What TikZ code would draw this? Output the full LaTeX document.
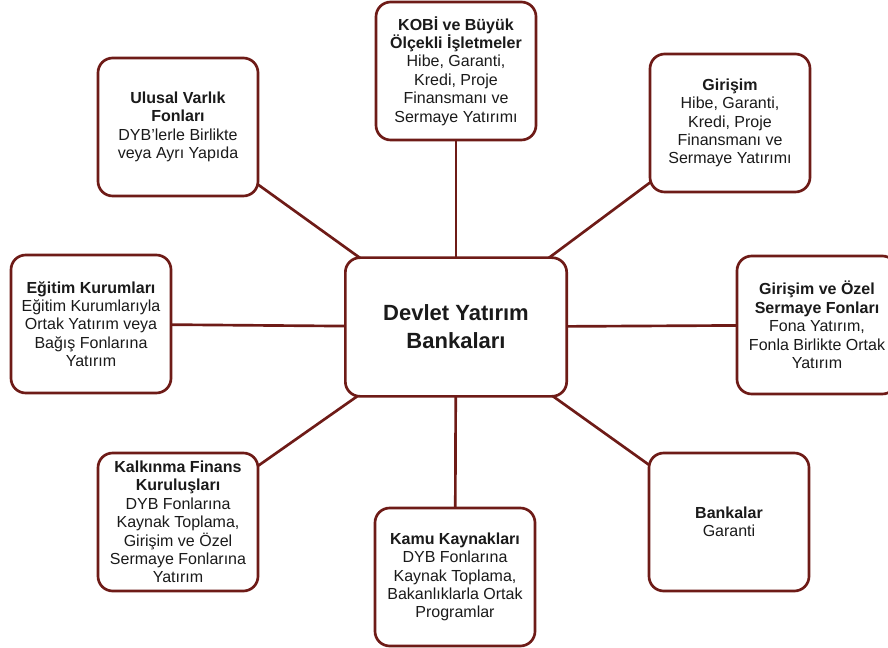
\documentclass[tikz,border=0pt]{standalone}
\usepackage{fontspec}
\setmainfont{Liberation Sans}
\usetikzlibrary{backgrounds}
\definecolor{maroon}{HTML}{6E1B17}
\definecolor{ink}{HTML}{1A1A1A}

\begin{document}
\begin{tikzpicture}[x=0.75pt,y=-0.75pt,
    box/.style={draw=maroon,line width=2pt,rounded corners=11pt,fill=white,
      align=center,text=ink,minimum width=120pt,minimum height=103.5pt,
      inner sep=2pt,font=\fontsize{12}{13.8}\selectfont},
    hub/.style={box,minimum width=166pt,minimum height=104pt,
      font=\fontsize{16.5}{21}\selectfont\bfseries},
    link/.style={draw=maroon,line width=2pt}]
  \useasboundingbox (0,0) rectangle (888,648);
  \node[hub] (dyb) at (456,327) {Devlet Yatırım\\Bankaları};
  \node[box] (kobi) at (456,71) {\textbf{KOBİ ve Büyük}\\\textbf{Ölçekli İşletmeler}\\Hibe, Garanti,\\Kredi, Proje\\Finansmanı ve\\Sermaye Yatırımı};
  \node[box] (ulusal) at (178,127) {\textbf{Ulusal Varlık}\\\textbf{Fonları}\\DYB’lerle Birlikte\\veya Ayrı Yapıda};
  \node[box] (girisim) at (730,123) {\textbf{Girişim}\\Hibe, Garanti,\\Kredi, Proje\\Finansmanı ve\\Sermaye Yatırımı};
  \node[box] (egitim) at (91,324) {\textbf{Eğitim Kurumları}\\Eğitim Kurumlarıyla\\Ortak Yatırım veya\\Bağış Fonlarına\\Yatırım};
  \node[box] (ozel) at (817,325) {\textbf{Girişim ve Özel}\\\textbf{Sermaye Fonları}\\Fona Yatırım,\\Fonla Birlikte Ortak\\Yatırım};
  \node[box] (kalkinma) at (178,522) {\textbf{Kalkınma Finans}\\\textbf{Kuruluşları}\\DYB Fonlarına\\Kaynak Toplama,\\Girişim ve Özel\\Sermaye Fonlarına\\Yatırım};
  \node[box] (kamu) at (455,577) {\textbf{Kamu Kaynakları}\\DYB Fonlarına\\Kaynak Toplama,\\Bakanlıklarla Ortak\\Programlar};
  \node[box] (banka) at (729,522) {\textbf{Bankalar}\\Garanti};
  \begin{scope}[on background layer]
    \foreach \s in {kobi,ulusal,girisim,egitim,ozel,kalkinma,kamu,banka}
      \draw[link] (dyb.center) -- (\s.center);
  \end{scope}
\end{tikzpicture}
\end{document}
